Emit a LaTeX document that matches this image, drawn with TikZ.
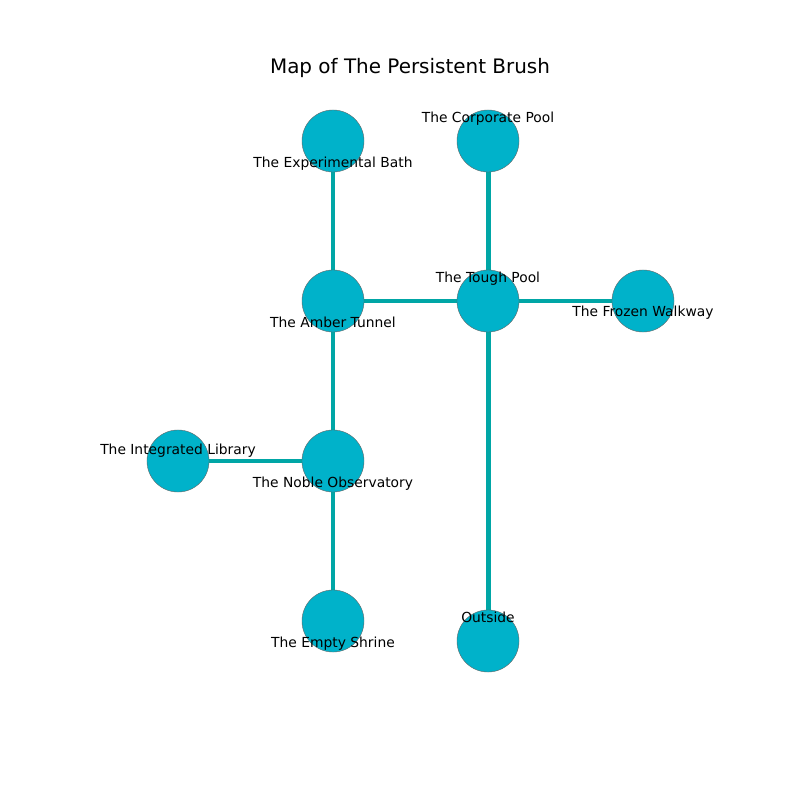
\documentclass[tikz,border=0pt]{standalone}
\usepackage{fontspec}
\setmainfont{DejaVu Sans}
\definecolor{roomfill}{HTML}{00B2CA}
\definecolor{roomedge}{HTML}{00A6A6}
\begin{document}
\begin{tikzpicture}[x=0.01in,y=-0.01in]
  \useasboundingbox (0,0) rectangle (800,800);
  \node (title) at (410,68) {\fontsize{14.4pt}{17pt}\selectfont Map of The Persistent Brush};
  \coordinate (bath) at (333,141);
  \coordinate (corporate) at (488,141);
  \coordinate (amber) at (333,301);
  \coordinate (tough) at (488,301);
  \coordinate (frozen) at (643,301);
  \coordinate (library) at (178,461);
  \coordinate (noble) at (333,461);
  \coordinate (shrine) at (333,621);
  \coordinate (outside) at (488,641);
  \begin{scope}[every edge/.style={draw=roomedge,line width=3.6pt}]
  \path (bath) edge (amber);
  \path (corporate) edge (tough);
  \path (amber) edge (tough);
  \path (tough) edge (frozen);
  \path (amber) edge (noble);
  \path (library) edge (noble);
  \path (noble) edge (shrine);
  \path (tough) edge (outside);
  \end{scope}
  \begin{scope}[every node/.style={circle,draw=black!60,line width=0.3pt,fill=roomfill,minimum size=0.62in,inner sep=0pt}]
  \node (a) at (bath) {};
  \node (b) at (corporate) {};
  \node (c) at (amber) {};
  \node (d) at (tough) {};
  \node (e) at (frozen) {};
  \node (f) at (library) {};
  \node (g) at (noble) {};
  \node (h) at (shrine) {};
  \node (i) at (outside) {};
  \end{scope}
  \begin{scope}[every node/.style={font=\fontsize{10pt}{12pt}\selectfont,inner sep=0pt}]
  \node (la) at (333,164) {The Experimental Bath};
  \node (lb) at (488,119) {The Corporate Pool};
  \node (lc) at (333,322) {The Amber Tunnel};
  \node (ld) at (488,279) {The Tough Pool};
  \node (le) at (643,313) {The Frozen Walkway};
  \node (lf) at (178,451) {The Integrated Library};
  \node (lg) at (333,484) {The Noble Observatory};
  \node (lh) at (333,644) {The Empty Shrine};
  \node (li) at (488,617) {Outside};
  \end{scope}
\end{tikzpicture}
\end{document}
